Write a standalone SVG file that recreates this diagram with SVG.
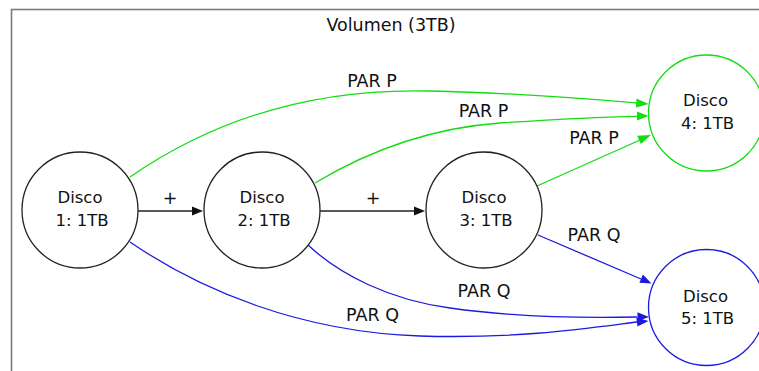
<svg xmlns="http://www.w3.org/2000/svg" width="759" height="371" viewBox="0 0 759 371">
<style>
text{font-family:"DejaVu Sans",Verdana,sans-serif;fill:#111;text-anchor:middle}
.n{font-size:16.5px}
.l{font-size:17.5px}
.t{font-size:17.5px}
circle{fill:#fff;stroke-width:1.3}
.e{fill:none;stroke-width:1.3}
.k{stroke:#222}.g{stroke:#11dd11}.b{stroke:#1a1ae0}
.ka{fill:#111}.ga{fill:#11dd11}.ba{fill:#1a1ae0}
</style>
<rect width="759" height="371" fill="#fff"/>
<g id="cluster">
<rect x="11.5" y="9.5" width="800" height="420" fill="none" stroke="#7a7a7a" stroke-width="1.6"/>
<text class="t" x="391" y="31">Volumen (3TB)</text>
</g>
<g id="edges">
<g id="e12"><path class="e k" d="M137.5,211 H193"/><polygon class="ka" points="203,211 192,206.5 192,215.5"/><text class="l" x="170" y="203.5">+</text></g>
<g id="e23"><path class="e k" d="M320,211 H415"/><polygon class="ka" points="425,211 414,206.5 414,215.5"/><text class="l" x="373" y="203.5">+</text></g>
<g id="e14"><path class="e g" d="M130,177 C220,115 320,88 430,91 C520,93 590,99 637,103"/><polygon class="ga" points="648.5,104 636.5,98.5 636,107.5"/><text class="l" x="372" y="86.5">PAR P</text></g>
<g id="e24"><path class="e g" d="M315,183 C370,150 430,128 500,123 C560,119 600,117 637,116.3"/><polygon class="ga" points="648.5,116 637,111.5 637,120.5"/><text class="l" x="483.5" y="116.5">PAR P</text></g>
<g id="e34"><path class="e g" d="M537,186 L640,140"/><polygon class="ga" points="651,135 637.2,135.7 640.9,143.9"/><text class="l" x="594" y="144">PAR P</text></g>
<g id="e35"><path class="e b" d="M538,235 L641,279"/><polygon class="ba" points="651.5,283.5 642.9,274.4 639.4,282.7"/><text class="l" x="594" y="240.5">PAR Q</text></g>
<g id="e25"><path class="e b" d="M308,245 C340,275 390,300 450,308 C520,318 590,318 637,317"/><polygon class="ba" points="649,317 637.5,312.3 637.5,321.3"/><text class="l" x="484" y="296.5">PAR Q</text></g>
<g id="e15"><path class="e b" d="M130,242 C200,290 300,332 420,336 C520,339 590,328 637,322"/><polygon class="ba" points="648.5,321 636.3,317.5 637.5,326.5"/><text class="l" x="372.5" y="320.5">PAR Q</text></g>
</g>
<g id="n1"><circle class="k" cx="80" cy="210" r="58"/><text class="n" x="80" y="203">Disco</text><text class="n" x="82" y="226">1: 1TB</text></g>
<g id="n2"><circle class="k" cx="262" cy="210" r="58"/><text class="n" x="262" y="203">Disco</text><text class="n" x="264" y="226">2: 1TB</text></g>
<g id="n3"><circle class="k" cx="484" cy="210" r="58"/><text class="n" x="484" y="203">Disco</text><text class="n" x="486" y="226">3: 1TB</text></g>
<g id="n4"><circle class="g" cx="706.5" cy="113" r="58"/><text class="n" x="705.5" y="106">Disco</text><text class="n" x="707.5" y="128.5">4: 1TB</text></g>
<g id="n5"><circle class="b" cx="706.5" cy="307.5" r="58"/><text class="n" x="705.5" y="301.5">Disco</text><text class="n" x="707.5" y="323.5">5: 1TB</text></g>
</svg>
